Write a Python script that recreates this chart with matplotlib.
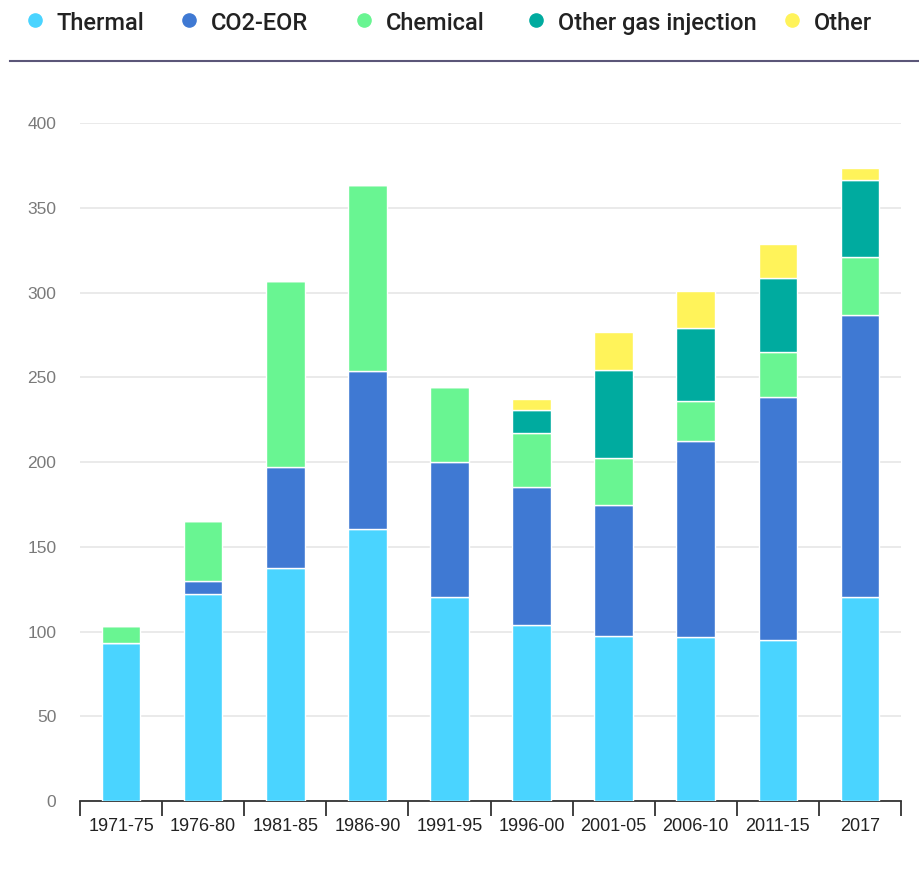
import numpy as np
import matplotlib.pyplot as plt
from matplotlib.lines import Line2D

periods = ['1971-75', '1976-80', '1981-85', '1986-90', '1991-95',
           '1996-00', '2001-05', '2006-10', '2011-15', '2017']
thermal = [93, 122, 137.5, 160.5, 120.5, 104, 97.5, 97, 95, 120.5]
co2_eor = [0, 8, 59.5, 93, 79.5, 81, 77, 115.5, 143.5, 166]
chemical = [10, 35, 110, 110, 44, 32, 28, 23.5, 26.5, 34.5]
other_gas = [0, 0, 0, 0, 0, 13.5, 51.5, 43, 43.5, 45.5]
other = [0, 0, 0, 0, 0, 6.5, 22.5, 22, 20, 7]

series = ['Thermal', 'CO2-EOR', 'Chemical', 'Other gas injection', 'Other']
colors = ['#4AD4FF', '#3F79D3', '#69F592', '#00AB9F', '#FFF35A']
values = [thermal, co2_eor, chemical, other_gas, other]

fig = plt.figure(figsize=(9.2, 8.72), dpi=100)
ax = fig.add_axes([80 / 920, 1 - 801 / 872, 821 / 920, 678 / 872])

x = np.arange(len(periods))
bottom = np.zeros(len(periods))
for vals, col in zip(values, colors):
    vals = np.array(vals, dtype=float)
    ax.bar(x, vals, width=0.47, bottom=bottom, color=col,
           edgecolor='white', linewidth=1.0, zorder=3)
    bottom += vals

ax.set_xlim(-0.5, len(periods) - 0.5)
ax.set_ylim(0, 400)
ax.set_yticks(range(0, 401, 50))
ax.grid(axis='y', color='#e8e8e8', linewidth=1.3, zorder=0)
ax.tick_params(axis='y', length=0, labelsize=12.5, labelcolor='#7a7a7a', pad=17)
for t in ax.get_yticklabels():
    t.set_family('Liberation Sans')

# category boundary ticks, labels centred between them
ax.set_xticks(np.arange(-0.5, len(periods), 1.0))
ax.set_xticklabels([])
ax.set_xticks(x, minor=True)
ax.set_xticklabels(periods, minor=True, fontsize=13, color='#222222',
                   family='Liberation Sans')
ax.tick_params(axis='x', which='major', length=11, width=1.3, color='#333333')
ax.tick_params(axis='x', which='minor', length=0, pad=12)

for s in ['left', 'right', 'top']:
    ax.spines[s].set_visible(False)
ax.spines['bottom'].set_color('#333333')
ax.spines['bottom'].set_linewidth(1.3)

# legend across the top
marker_x = [35, 189, 364, 536, 792]
for mx, lab, col in zip(marker_x, series, colors):
    fig.add_artist(Line2D([mx / 920], [1 - 20 / 872], marker='o', markersize=9.5,
                          color=col, linestyle='none', transform=fig.transFigure))
    fig.text((mx + 22) / 920, 1 - 21 / 872, lab, fontsize=17, fontweight='medium',
             family='Roboto', color='#222222', va='center_baseline', ha='left')

fig.add_artist(Line2D([10 / 920, 1], [1 - 61 / 872] * 2, color='#5b5678',
                      linewidth=1.5, transform=fig.transFigure))

fig.savefig('out.png', dpi=100)
